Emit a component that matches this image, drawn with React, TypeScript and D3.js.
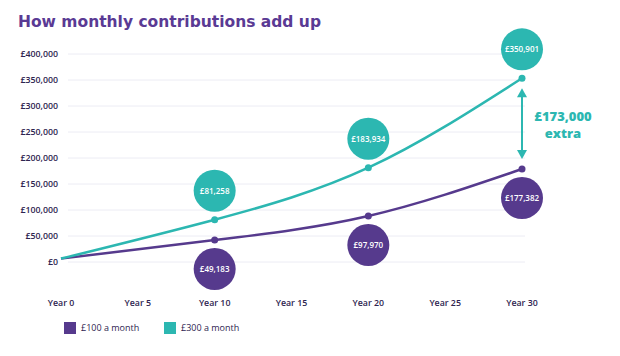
import React from "react";
import * as d3 from "d3";

const years = [0, 10, 20, 30];
const low = [6500, 42300, 88500, 178800];
const high = [6500, 81300, 181300, 353300];
const lowLabels = ["", "£49,183", "£97,970", "£177,382"];
const highLabels = ["", "£81,258", "£183,934", "£350,901"];
const yTicks = [0, 50000, 100000, 150000, 200000, 250000, 300000, 350000, 400000];
const xTicks = [0, 5, 10, 15, 20, 25, 30];
const seriesNames = ["£100 a month", "£300 a month"];

const PURPLE = "#563a8d";
const TEAL = "#2cb7b1";
const TEXT = "#2e2450";
const FONT = "'Open Sans', 'DejaVu Sans', sans-serif";

export default function App() {
  const x = d3.scaleLinear().domain([0, 30]).range([61, 522]);
  const y = d3.scaleLinear().domain([0, 400000]).range([262, 54]);
  const line = d3
    .line<number>()
    .x((_, i) => x(years[i]))
    .y((d) => y(d))
    .curve(d3.curveNatural);
  const fmt = (v: number) => "£" + d3.format(",")(v);

  const arrowX = x(30);
  const aTop = y(high[3]) + 10;
  const aBot = y(low[3]) - 10;

  return (
    <svg
      width={620}
      height={356}
      style={{ position: "absolute", left: 0, top: 0, background: "#fff" }}
      fontFamily={FONT}
    >
      <text
        x={18}
        y={27}
        fontSize={16}
        fontWeight={700}
        fontFamily="'DejaVu Sans', sans-serif"
        fill="#5a3a94"
        textLength={303}
        lengthAdjust="spacingAndGlyphs"
      >
        How monthly contributions add up
      </text>

      {yTicks.map((t) => (
        <g key={t}>
          <line x1={68} x2={525} y1={y(t)} y2={y(t)} stroke="#ececf4" strokeWidth={1} />
          <text x={58} y={y(t)} dy="0.35em" textAnchor="end" fontSize={8.8} fontWeight={600} fill={TEXT}>
            {fmt(t)}
          </text>
        </g>
      ))}

      {xTicks.map((t) => (
        <text key={t} x={x(t)} y={306} textAnchor="middle" fontSize={8.8} fontWeight={600} fill={TEXT}>
          {"Year " + t}
        </text>
      ))}

      <path d={line(low) || ""} fill="none" stroke={PURPLE} strokeWidth={2.5} />
      <path d={line(high) || ""} fill="none" stroke={TEAL} strokeWidth={2.5} />

      {years.map((yr, i) =>
        i === 0 ? null : (
          <g key={"m" + yr}>
            <circle cx={x(yr)} cy={y(low[i])} r={3.5} fill={PURPLE} />
            <circle cx={x(yr)} cy={y(high[i])} r={3.5} fill={TEAL} />
            <circle cx={x(yr)} cy={y(high[i]) - 29} r={21} fill={TEAL} />
            <text x={x(yr)} y={y(high[i]) - 29} dy="0.35em" textAnchor="middle" fontSize={8} fontWeight={600} fill="#fff">
              {highLabels[i]}
            </text>
            <circle cx={x(yr)} cy={y(low[i]) + 29} r={21} fill={PURPLE} />
            <text x={x(yr)} y={y(low[i]) + 29} dy="0.35em" textAnchor="middle" fontSize={8} fontWeight={600} fill="#fff">
              {lowLabels[i]}
            </text>
          </g>
        )
      )}

      <line x1={arrowX} x2={arrowX} y1={aTop + 6} y2={aBot - 6} stroke={TEAL} strokeWidth={2} />
      <path d={`M${arrowX},${aTop} L${arrowX - 5},${aTop + 9} L${arrowX + 5},${aTop + 9} Z`} fill={TEAL} />
      <path d={`M${arrowX},${aBot} L${arrowX - 5},${aBot - 9} L${arrowX + 5},${aBot - 9} Z`} fill={TEAL} />
      <text x={563} y={121} textAnchor="middle" fontSize={13} fontWeight={800} fill={TEAL}>
        £173,000
      </text>
      <text x={563} y={138} textAnchor="middle" fontSize={13} fontWeight={800} fill={TEAL}>
        extra
      </text>

      {seriesNames.map((name, i) => (
        <g key={name} transform={`translate(${64 + i * 100},322)`}>
          <rect width={12} height={12} fill={i === 0 ? PURPLE : TEAL} />
          <text x={17} y={6} dy="0.35em" fontSize={9} fontWeight={500} fill={TEXT}>
            {name}
          </text>
        </g>
      ))}
    </svg>
  );
}
